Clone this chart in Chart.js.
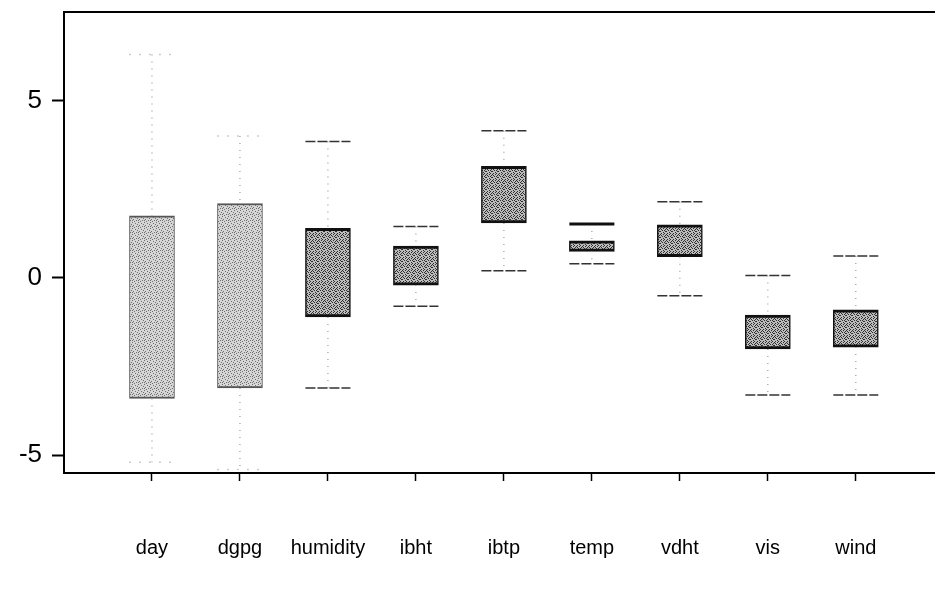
<!DOCTYPE html>
<html>
<head>
<meta charset="utf-8">
<title>Box plot</title>
<script src="https://cdn.jsdelivr.net/npm/chart.js@4.4.1/dist/chart.umd.min.js"></script>
<style>
  html, body { margin: 0; padding: 0; background: #fff; }
  #wrap { width: 935px; height: 589px; }
</style>
</head>
<body>
<div id="wrap"><canvas id="boxChart" width="935" height="589"></canvas></div>
<script>
// Values
const categories = ['day', 'dgpg', 'humidity', 'ibht', 'ibtp', 'temp', 'vdht', 'vis', 'wind'];
const lowerWhisker = [-5.2, -5.4, -3.1, -0.8, 0.2, 0.4, -0.5, -3.3, -3.3];
const q1 = [-3.4, -3.1, -1.1, -0.2, 1.55, 0.75, 0.6, -2.0, -1.95];
const q3 = [1.75, 2.1, 1.4, 0.9, 3.15, 1.05, 1.5, -1.05, -0.9];
const upperWhisker = [6.3, 4.0, 3.85, 1.45, 4.15, 1.52, 2.15, 0.07, 0.62];
const yTicks = [-5, 0, 5];

// Stippled fills like the scanned print
function makeStipple(base, dot, pts) {
    const c = document.createElement('canvas');
    c.width = 6; c.height = 6;
    const g = c.getContext('2d');
    g.fillStyle = base;
    g.fillRect(0, 0, 6, 6);
    g.fillStyle = dot;
    pts.forEach(p => g.fillRect(p[0], p[1], 1, 1));
    return g.createPattern(c, 'repeat');
}
const lightFill = makeStipple('#d6d6d6', '#6e6e6e',
    [[0, 0], [3, 1], [5, 2], [1, 3], [4, 4], [2, 5], [0, 4]]);
const darkFill = makeStipple('#bcbcbc', '#2e2e2e',
    [[0, 0], [3, 0], [1, 1], [4, 2], [2, 2], [0, 3], [5, 3], [3, 4], [1, 5], [4, 5], [5, 1]]);
const faint = [true, true, false, false, false, false, false, false, false];
const boldTopCap = [false, false, false, false, false, true, false, false, false];

// whiskers, caps and the top frame line
const boxWhiskers = {
    id: 'boxWhiskers',
    afterDatasetsDraw(chart) {
        const { ctx, chartArea, scales: { x, y } } = chart;
        const half = 22.5;
        ctx.save();
        categories.forEach((c, i) => {
            const cx = x.getPixelForValue(i + 1);
            const yHi = y.getPixelForValue(upperWhisker[i]);
            const yLo = y.getPixelForValue(lowerWhisker[i]);
            const yQ3 = y.getPixelForValue(q3[i]);
            const yQ1 = y.getPixelForValue(q1[i]);

            ctx.setLineDash([1, 6]);
            ctx.lineWidth = 1.2;
            ctx.strokeStyle = '#999';
            ctx.beginPath();
            ctx.moveTo(cx, yHi); ctx.lineTo(cx, yQ3);
            ctx.moveTo(cx, yQ1); ctx.lineTo(cx, yLo);
            ctx.stroke();

            if (faint[i]) {
                ctx.setLineDash([1, 9]);
                ctx.strokeStyle = '#9a9a9a';
                ctx.lineWidth = 1.5;
            } else {
                ctx.setLineDash([10, 2]);
                ctx.strokeStyle = '#333';
                ctx.lineWidth = 1.5;
            }
            ctx.beginPath();
            ctx.moveTo(cx - half, yLo); ctx.lineTo(cx + half, yLo);
            if (!boldTopCap[i]) {
                ctx.moveTo(cx - half, yHi); ctx.lineTo(cx + half, yHi);
            }
            ctx.stroke();

            if (boldTopCap[i]) {
                ctx.setLineDash([]);
                ctx.strokeStyle = '#111';
                ctx.lineWidth = 3;
                ctx.beginPath();
                ctx.moveTo(cx - half, yHi); ctx.lineTo(cx + half, yHi);
                ctx.stroke();
            }
        });

        ctx.setLineDash([]);
        ctx.strokeStyle = '#000';
        ctx.lineWidth = 2;
        ctx.beginPath();
        ctx.moveTo(chartArea.left, chartArea.top);
        ctx.lineTo(chartArea.right, chartArea.top);
        ctx.stroke();
        ctx.restore();
    }
};

const ctx = document.getElementById('boxChart').getContext('2d');
new Chart(ctx, {
    type: 'bar',
    data: {
        datasets: [{
            data: categories.map((c, i) => ({ x: i + 1, y: [q1[i], q3[i]] })),
            backgroundColor: categories.map((c, i) => faint[i] ? lightFill : darkFill),
            borderColor: categories.map((c, i) => faint[i] ? '#555' : '#111'),
            borderWidth: c => faint[c.dataIndex]
                ? { top: 2, bottom: 2, left: 1, right: 1 }
                : { top: 3, bottom: 3, left: 1.5, right: 1.5 },
            borderSkipped: false,
            barThickness: 45,
            grouped: false
        }]
    },
    options: {
        responsive: false,
        animation: false,
        layout: { padding: { top: 12, right: 0, left: 0, bottom: 0 } },
        plugins: {
            legend: { display: false },
            tooltip: { enabled: false }
        },
        scales: {
            x: {
                type: 'linear',
                offset: false,
                min: 0,
                max: 9.9,
                afterBuildTicks: scale => {
                    scale.ticks = categories.map((c, i) => ({ value: i + 1 }));
                },
                afterFit: scale => {
                    scale.height = 116;
                    scale.paddingLeft = 0;
                    scale.paddingRight = 0;
                },
                grid: {
                    offset: false,
                    drawOnChartArea: false,
                    drawTicks: true,
                    tickLength: 8,
                    tickWidth: 1.5,
                    tickColor: '#000'
                },
                border: { display: true, color: '#000', width: 2 },
                ticks: {
                    padding: 55,
                    color: '#000',
                    maxRotation: 0,
                    font: { family: 'Liberation Sans', size: 20 },
                    callback: v => categories[v - 1]
                }
            },
            y: {
                min: -5.5,
                max: 7.5,
                afterBuildTicks: scale => {
                    scale.ticks = yTicks.map(v => ({ value: v }));
                },
                afterFit: scale => {
                    scale.width = 64;
                    scale.paddingTop = 0;
                    scale.paddingBottom = 0;
                },
                grid: {
                    drawOnChartArea: false,
                    drawTicks: true,
                    tickLength: 12,
                    tickWidth: 2,
                    tickColor: '#000'
                },
                border: { display: true, color: '#000', width: 2 },
                ticks: {
                    padding: 10,
                    color: '#000',
                    font: { family: 'Liberation Sans', size: 26 }
                }
            }
        }
    },
    plugins: [boxWhiskers]
});
</script>
</body>
</html>
